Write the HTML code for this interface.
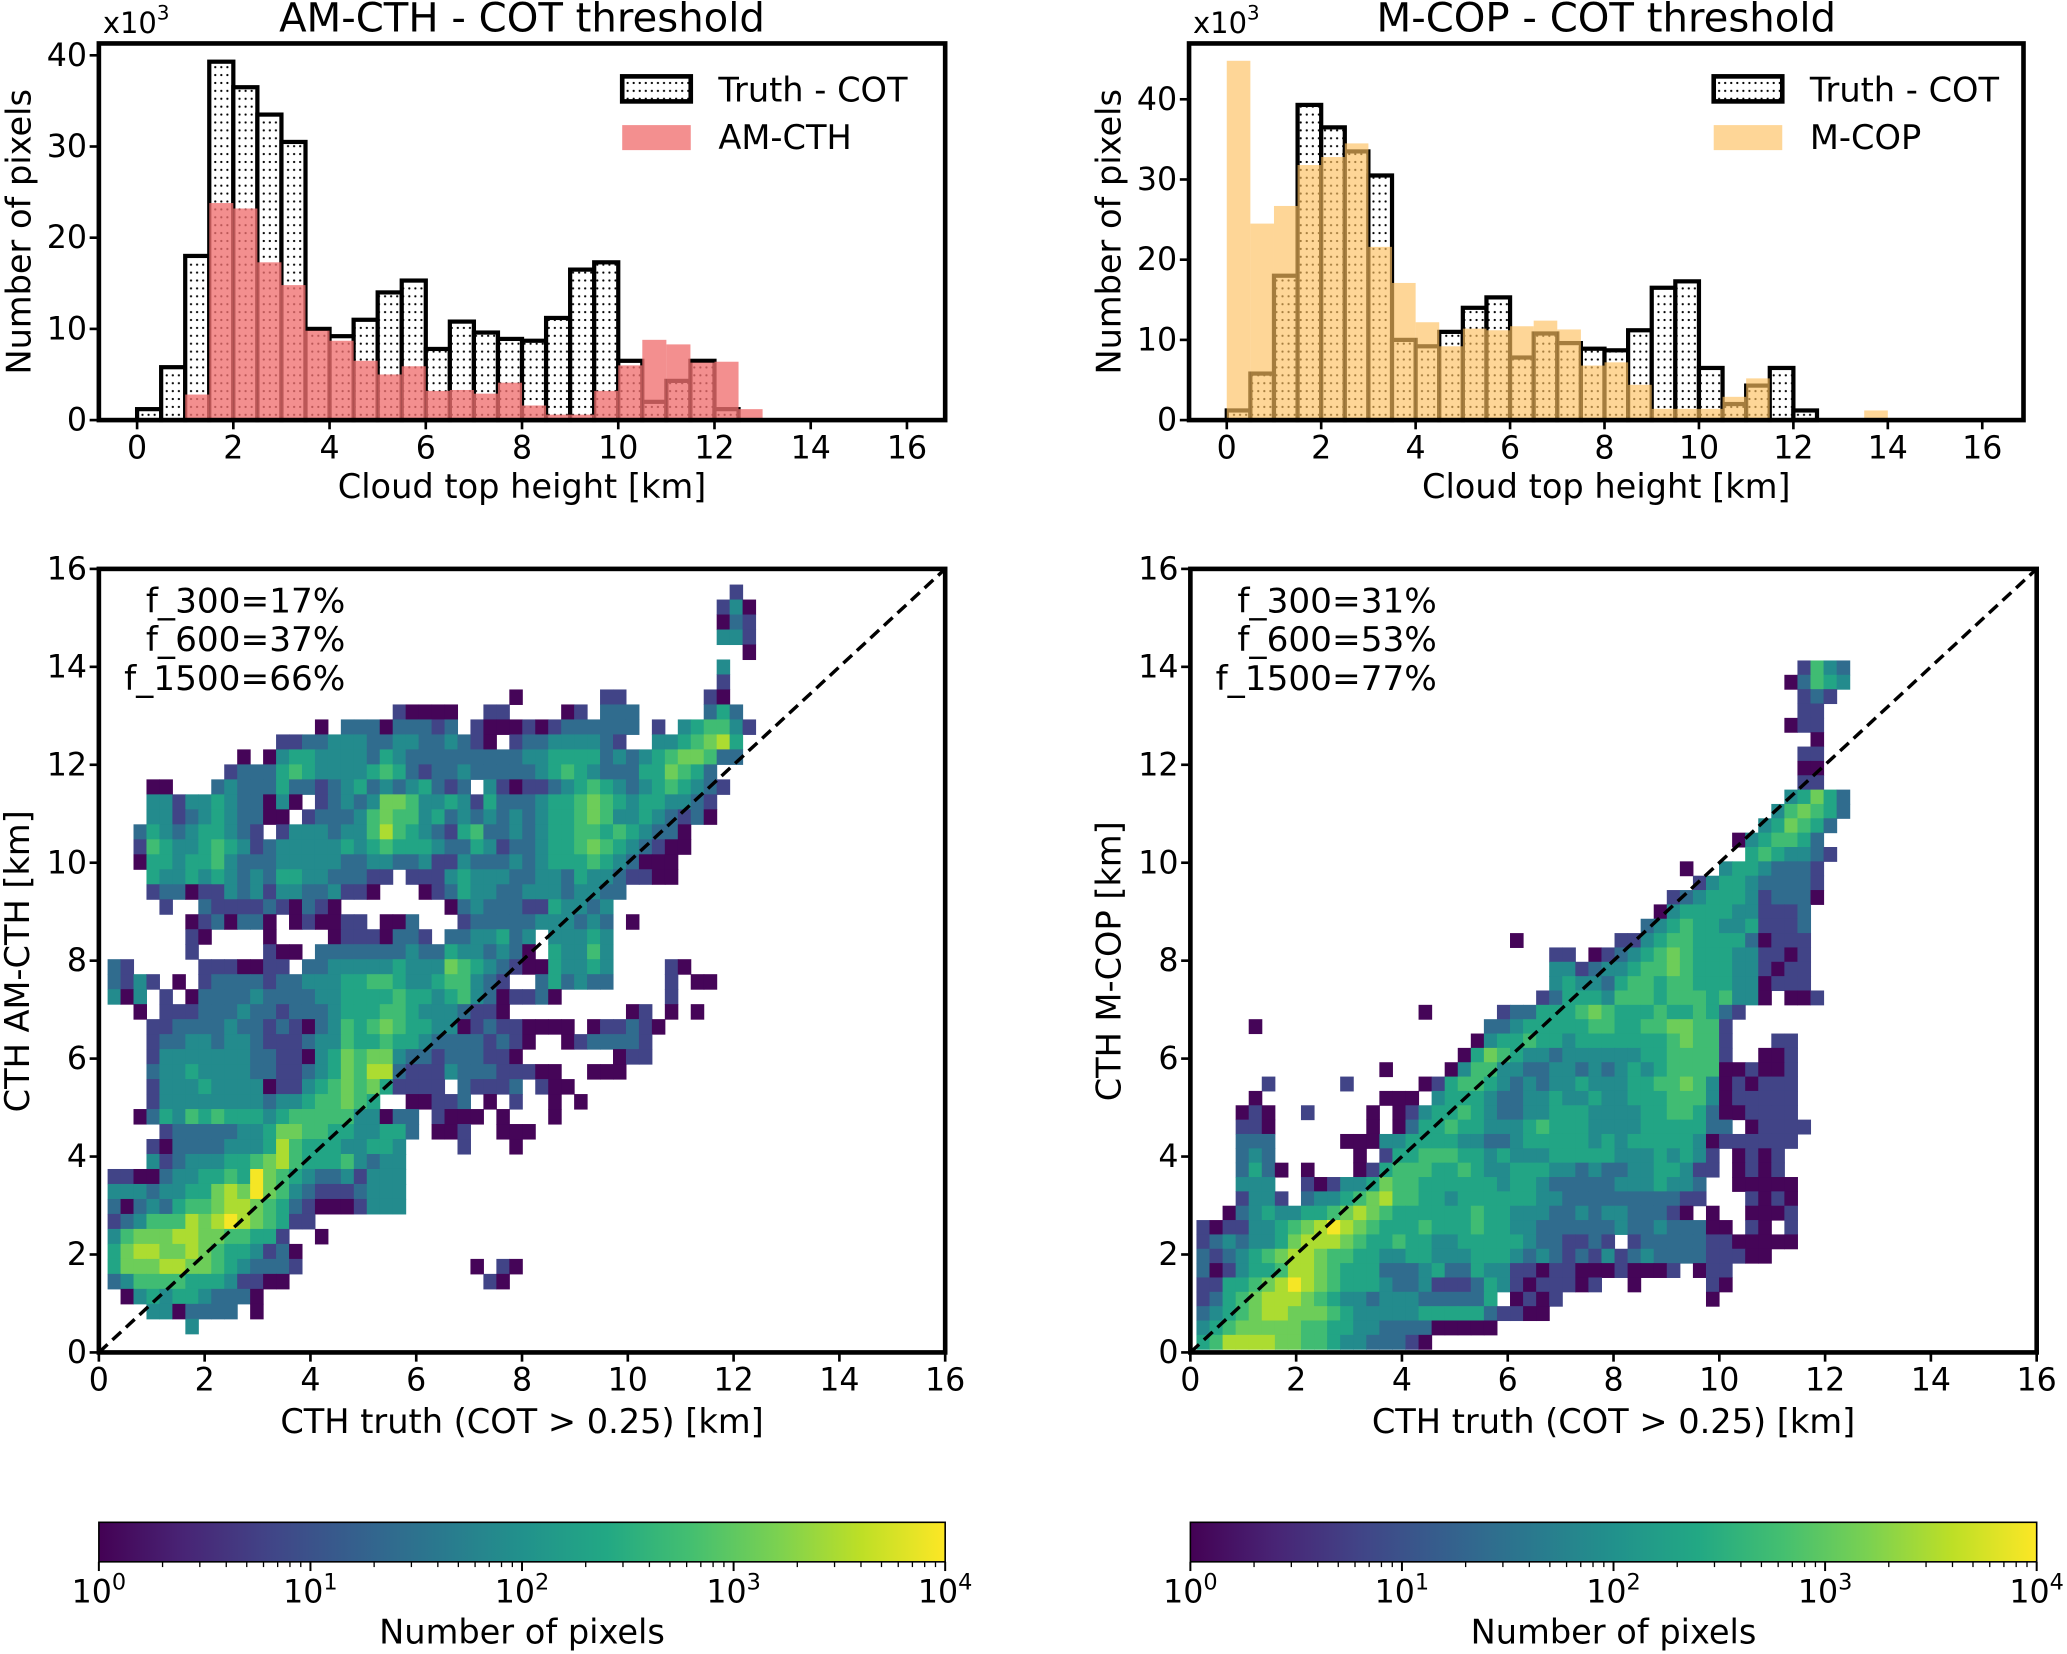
<!DOCTYPE html>
<html><head><meta charset="utf-8">
<style>
html,body{margin:0;padding:0;background:#fff;}
svg{display:block;}
text{font-family:"DejaVu Sans","Liberation Sans",sans-serif;fill:#000;}
</style></head>
<body>
<svg id="fig" width="2067" height="1654" viewBox="0 0 1568 1256" preserveAspectRatio="none">
<defs>
<pattern id="dots" width="4.6" height="6" patternUnits="userSpaceOnUse"><circle cx="2.3" cy="3" r="0.85" fill="#000"/></pattern>
<clipPath id="clipL"><rect x="75" y="432" width="642" height="595"/></clipPath>
<clipPath id="clipR"><rect x="903" y="432" width="642" height="595"/></clipPath>
</defs>
</svg>
<script>
// ---------- DATA ----------
const histBinWidth = 0.5;
const histYTicks = [0, 10, 20, 30, 40];
const kmTicks = [0, 2, 4, 6, 8, 10, 12, 14, 16];
const truthCounts = [1.2,5.8,18,39.3,36.5,33.5,30.5,10,9.2,11,14,15.3,7.8,10.8,9.6,8.9,8.7,11.2,16.5,17.3,6.5,2,4.3,6.5,1.2];
const amcthCounts = [0,0,2.8,23.8,23.2,17.3,14.8,9.8,8.7,6.5,5,5.9,3.2,3.3,2.9,4.1,1.6,0.6,0.6,3.2,6,8.8,8.3,6.3,6.4,1.2];
const mcopCounts = [44.8,24.5,26.7,31.8,32.8,34.5,21.6,17.1,12.2,9.2,11.4,11.2,11.7,12.4,11.3,6.8,7.2,4.4,1.4,1.4,1.4,2.9,5.2,0,0,0,0,1.2];
const cbarDecades = [0, 1, 2, 3, 4];
const amcthStats = ["f_300=17%", "f_600=37%", "f_1500=66%"];
const mcopStats = ["f_300=31%", "f_600=53%", "f_1500=77%"];
// log10(count) per level character
const levelLog = [null, 0.05, 0.8, 1.4, 1.9, 2.35, 2.75, 3.1, 3.5, 3.95];
// 2D histogram bins (km)
const amcthGrid = {x0: 0.165, dx: 0.245, yTop: 15.68, dy: 0.306};
const mcopGrid = {x0: 0.115, dx: 0.247, yTop: 14.13, dy: 0.293};
const Z = "0000000000";
const amcthRows = [
Z+Z+Z+Z+"0000000020",
Z+Z+Z+Z+"0000000241",
Z+Z+Z+Z+"0000000132",
Z+Z+Z+Z+"0000000442",
Z+Z+Z+Z+"0000000001",
Z+Z+Z+Z+"0000000400",
Z+Z+Z+Z+"0000000200",
Z+Z+Z+"0100000022"+"0000002100",
Z+Z+"0021111002"+"2000012033"+"3000003530",
Z+"0000001033"+"3133323021"+"1121233333"+"3020456642",
Z+"0002233444"+"3344334321"+"0233444432"+"0044567850",
Z+"1014554444"+"3543333333"+"3344555534"+"3456776330",
"0000000002"+"3335654444"+"5653233433"+"3334565433"+"3557653000",
"0001100034"+"3335332345"+"3434532304"+"2122345654"+"3456543200",
"0004424454"+"3314102343"+"4776445425"+"3334556765"+"4554432000",
"0004423454"+"3311023334"+"6766453434"+"3434556764"+"4543231000",
"0035434554"+"3202444344"+"6865432563"+"3434556656"+"5433100000",
"0026544565"+"4234444454"+"5655543354"+"2334556765"+"4321100000",
"0015545564"+"3334444433"+"4433422433"+"3434555654"+"3111000000",
"0005445454"+"3435544333"+"2202224544"+"4334435443"+"2211000000",
"0002331224"+"3424433422"+"1000123544"+"3344434433",
"0000200322"+"2232132100"+"0000001343"+"3322544340",
"0000001231"+"3310121122"+"0113000233"+"3334443430"+"1000000000",
"0000002100"+"0010000122"+"2133203344"+"5340444540",
"0000002000"+"0021103333"+"3334335443"+"4310544640",
"3200000222"+"1122033444"+"4454447654"+"3211544540"+"0002100000",
"3242010233"+"3323344455"+"6654456643"+"2003534330"+"0002011000",
"4140201333"+"3433334455"+"5565545643"+"1223100000"+"0002000000",
"0010222333"+"4332333455"+"5665444322"+"1000000000"+"1201010000",
"0002233334"+"3323213465"+"6765544123"+"2211110122"+"3210000000",
"0002334434"+"4322234465"+"5655433332"+"3210012333"+"3200000000",
"0002444444"+"4332214576"+"7743323332"+"2100000001"+"2200000000",
"0003445444"+"4332234576"+"8832224333"+"2221100111",
"0002444544"+"4412245676"+"7522220322"+"2302110000",
"0002444444"+"4434456676"+"5001122301"+"0200101000",
"0013546565"+"5545666664"+"4133021110"+"1000100000",
"0000233333"+"4457766554"+"4553011200"+"1110000000",
"0002133334"+"4458655544"+"5540000200"+"0100000000",
"0004234445"+"5678655564"+"3440000000",
"2211344556"+"5976543342"+"4440000000",
"4443445578"+"7976432223"+"4440000000",
"3134356678"+"8765321112"+"4440000000",
"2346668789"+"8765220000",
"4677788776"+"6552001000",
"5788778765"+"5423100000",
"5777887765"+"4333200000"+"0000000010"+"2100000000",
"3466665554"+"2211000000"+"0000000002"+"1000000000",
"0145455433"+"3100000000",
"0004413333"+"0100000000",
"0000004000"
];
const mcopRows = [
Z+Z+Z+Z+"0000002643",
Z+Z+Z+Z+"0000013654",
Z+Z+Z+Z+"0000002320",
Z+Z+Z+Z+"0000002200",
Z+Z+Z+Z+"0000012200",
Z+Z+Z+Z+"0000000100",
Z+Z+Z+Z+"0000002200",
Z+Z+Z+Z+"0000001100",
Z+Z+Z+Z+"0000002200",
Z+Z+Z+Z+"0000045753",
Z+Z+Z+Z+"0000467653",
Z+Z+Z+Z+"0004576530",
Z+Z+Z+Z+"0145665300",
Z+Z+Z+Z+"0056544320",
Z+Z+Z+"0000000100"+"4554333200",
Z+Z+Z+"0000000024"+"5543333200",
Z+Z+Z+"0000002345"+"5542333100",
Z+Z+Z+"0000014555"+"5442223000",
Z+Z+Z+"0000345655"+"4452223000",
Z+Z+"0000100000"+"0022456655"+"5531222000",
Z+Z+"0000000220"+"1234567655"+"5442212000",
Z+Z+"0000000442"+"3445667655"+"5442122000",
Z+Z+"0000000454"+"4356656655"+"5441222000",
Z+Z+"0000002355"+"5466656665"+"6441011200",
Z+"0000000100"+"0002335556"+"7655565565"+"3200000000",
"0000100000"+Z+"0033455555"+"6655667766"+"2000000000",
Z+Z+"0145565545"+"5555556766"+"2000220000",
Z+Z+"1576544344"+"4444556666"+"2001120000",
Z+"0000100001"+"4664433443"+"4345456666"+"1121120000",
"0000020000"+"0200000125"+"6654343445"+"4445566764"+"1212220000",
"0000100000"+"0000111045"+"5543344544"+"5445556664"+"1222220000",
"0001210020"+"0001012455"+"6543344555"+"4444556653"+"1122220000",
"0002210000"+"0001013556"+"5544456555"+"4444555553"+"3012222000",
"0003330000"+"0111445555"+"4433455555"+"4545555541"+"2222220000",
"0003430000"+"0010255666"+"5545444555"+"5544454542"+"0121200000",
"0003531010"+"0012566655"+"6544555443"+"4334455422"+"0121200000",
"0004440021"+"2445766555"+"5554554333"+"3344454430"+"0111110000",
"0002442034"+"4567866554"+"5555554433"+"3333333220"+"0021210000",
"0013454455"+"6787655555"+"5655444334"+"3443332101"+"0011120000",
"2122445678"+"9876555655"+"5655443333"+"3343343331"+"1021020000",
"2343445788"+"8765565544"+"5555543322"+"3202333332"+"2111110000",
"3234567887"+"6655445544"+"4555434323"+"2423433332"+"2211000000",
"3124556887"+"6555333453"+"3544221221"+"1121112012"+"2000000000",
"2255678987"+"6555433422"+"2354212221"+"2001000002"+"1000000000",
"2356788876"+"5443444333"+"3350121200"+"0000000001",
"3456788777"+"6544444555"+"5532211000",
"4567777766"+"5544333311"+"1110000000",
"5688887766"+"5443332100"
];

// ---------- RENDER ----------
const NS = 'http://www.w3.org/2000/svg';
const svg = document.getElementById('fig');
function mk(tag, attrs, parent) {
  const e = document.createElementNS(NS, tag);
  for (const k in attrs) e.setAttribute(k, attrs[k]);
  (parent || svg).appendChild(e);
  return e;
}
const vStops = ['#440154','#482475','#414487','#355f8d','#2a788e','#21918c','#22a884','#44bf70','#7ad151','#bddf26','#fde725'];
function hex(c){return [parseInt(c.substr(1,2),16),parseInt(c.substr(3,2),16),parseInt(c.substr(5,2),16)];}
function viridis(t){
  t = Math.max(0, Math.min(1, t));
  const p = t * (vStops.length - 1), i = Math.min(Math.floor(p), vStops.length - 2), f = p - i;
  const a = hex(vStops[i]), b = hex(vStops[i + 1]);
  return 'rgb(' + a.map((v, k) => Math.round(v + (b[k] - v) * f)).join(',') + ')';
}
const defs = svg.querySelector('defs');
const grad = mk('linearGradient', {id: 'vgrad', x1: '0', y1: '0', x2: '1', y2: '0'}, defs);
for (let i = 0; i <= 20; i++) {
  mk('stop', {offset: (i / 20).toString(), 'stop-color': viridis(i / 20)}, grad);
}

function txt(s, x, y, size, anchor, parent) {
  const e = mk('text', {x: x, y: y, 'font-size': size, 'text-anchor': anchor || 'start'}, parent);
  e.textContent = s;
  return e;
}

// ---------- HISTOGRAM PANELS ----------
function histPanel(opt) {
  const g = mk('g', {});
  
  
  const xs = km => opt.xk0 + km * opt.xPer;
  const ys = v => opt.y1 - v * opt.yPer;
  truthCounts.forEach((v, i) => {
    const x = xs(i * histBinWidth), w = xs((i + 1) * histBinWidth) - x;
    const r = mk('rect', {x: x, y: ys(v), width: w, height: ys(0) - ys(v), fill: '#fff', stroke: 'none'}, g);
    
    
    const d = mk('rect', {x: x, y: ys(v), width: w, height: ys(0) - ys(v), fill: 'url(#dots)', stroke: '#000', 'stroke-width': 3.2}, g);
    
    
  });
  opt.counts.forEach((v, i) => {
    if (v <= 0) return;
    const x = xs(i * histBinWidth), w = xs((i + 1) * histBinWidth) - x;
    const r = mk('rect', {x: x, y: ys(v), width: w, height: ys(0) - ys(v), fill: opt.color, 'fill-opacity': opt.alpha}, g);
    
    
  });
  const fr = mk('rect', {x: opt.x0, y: opt.y0, width: opt.x1 - opt.x0, height: opt.y1 - opt.y0, fill: 'none', stroke: '#000', 'stroke-width': 3.5}, g);
  
  
  kmTicks.forEach(k => {
    const t = mk('line', {x1: xs(k), x2: xs(k), y1: opt.y1, y2: opt.y1 + 7, stroke: '#000', 'stroke-width': 2}, g);
    
    
    const l = txt(String(k), xs(k), opt.y1 + 29, 24, 'middle', g);
    
    
  });
  histYTicks.forEach(v => {
    const t = mk('line', {x1: opt.x0 - 7, x2: opt.x0, y1: ys(v), y2: ys(v), stroke: '#000', 'stroke-width': 2}, g);
    
    
    const l = txt(String(v), opt.x0 - 9, ys(v) + 8, 24, 'end', g);
    
    
  });
  const xl = txt('Cloud top height [km]', (opt.x0 + opt.x1) / 2, 378, 25.5, 'middle', g);
  
  
  const yl = txt('Number of pixels', 0, 0, 25.5, 'middle', g);
  yl.setAttribute('transform', 'translate(' + (opt.x0 - 52) + ',176) rotate(-90)');
  
  
  const ti = txt(opt.title, (opt.x0 + opt.x1) / 2, 24, 30.5, 'middle', g);
  
  
  const sc = mk('text', {x: opt.x0 + 3, y: 25, 'font-size': 22}, g);
  
  
  sc.textContent = 'x10';
  const sup = mk('tspan', {dy: -10, 'font-size': 15}, sc);
  sup.textContent = '3';
  const lx = opt.legX;
  const p1w = mk('rect', {x: lx, y: 58, width: 52, height: 19, fill: '#fff'}, g);
  
  
  const p1 = mk('rect', {x: lx, y: 58, width: 52, height: 19, fill: 'url(#dots)', stroke: '#000', 'stroke-width': 3.5}, g);
  
  
  const t1 = txt('Truth - COT', lx + 73, 77, 25.5, 'start', g);
  
  
  const p2 = mk('rect', {x: lx, y: 95, width: 52, height: 19, fill: opt.color, 'fill-opacity': opt.alpha}, g);
  
  
  const t2 = txt(opt.label, lx + 73, 113, 25.5, 'start', g);
  
  
}
histPanel({name: 'hist-amcth', x0: 75, x1: 717, y0: 33, y1: 319, xk0: 104, xPer: 36.5, yPer: 6.925,
  counts: amcthCounts, color: '#f07070', alpha: 0.78, barName: 'amcth-bar', title: 'AM-CTH - COT threshold', label: 'AM-CTH', legX: 472});
histPanel({name: 'hist-mcop', x0: 902, x1: 1535, y0: 33, y1: 319, xk0: 930.6, xPer: 35.82, yPer: 6.09,
  counts: mcopCounts, color: '#fdc060', alpha: 0.65, barName: 'mcop-bar', title: 'M-COP - COT threshold', label: 'M-COP', legX: 1300});

// ---------- HEATMAP PANELS ----------
function heatPanel(opt) {
  const g = mk('g', {});
  
  
  const xPer = (opt.x1 - opt.x0) / 16, yPer = (opt.y1 - opt.y0) / 16;
  const xs = km => opt.x0 + km * xPer;
  const ys = km => opt.y1 - km * yPer;
  const cg = mk('g', {'clip-path': 'url(#' + opt.clip + ')'}, g);
  
  
  const gr = opt.grid;
  opt.rows.forEach((row, ri) => {
    const yTopKm = gr.yTop - ri * gr.dy;
    for (let c = 0; c < row.length; c++) {
      const lv = +row[c];
      if (!lv) continue;
      const lg = levelLog[lv];
      const x = xs(gr.x0 + c * gr.dx), y = ys(yTopKm);
      const cell = mk('rect', {x: x, y: y, width: xs(gr.x0 + (c + 1) * gr.dx) - x + 0.4, height: ys(yTopKm - gr.dy) - y + 0.4, fill: viridis(lg / 4)}, cg);
      
      
    }
  });
  const dl = mk('line', {x1: xs(0), y1: ys(0), x2: xs(16), y2: ys(16), stroke: '#000', 'stroke-width': 2.6, 'stroke-dasharray': '9,5'}, g);
  
  
  const fr = mk('rect', {x: opt.x0, y: opt.y0, width: opt.x1 - opt.x0, height: opt.y1 - opt.y0, fill: 'none', stroke: '#000', 'stroke-width': 3.5}, g);
  
  
  kmTicks.forEach(k => {
    const t = mk('line', {x1: xs(k), x2: xs(k), y1: opt.y1, y2: opt.y1 + 7, stroke: '#000', 'stroke-width': 2}, g);
    
    
    const l = txt(String(k), xs(k), opt.y1 + 29, 24, 'middle', g);
    
    
    const t2 = mk('line', {x1: opt.x0 - 7, x2: opt.x0, y1: ys(k), y2: ys(k), stroke: '#000', 'stroke-width': 2}, g);
    
    
    const l2 = txt(String(k), opt.x0 - 9, ys(k) + 8, 24, 'end', g);
    
    
  });
  const xl = txt('CTH truth (COT > 0.25) [km]', (opt.x0 + opt.x1) / 2, 1088, 25.5, 'middle', g);
  
  
  const yl = txt(opt.ylabel, 0, 0, 25.5, 'middle', g);
  yl.setAttribute('transform', 'translate(' + (opt.x0 - 53) + ',730) rotate(-90)');
  
  
  opt.stats.forEach((s, i) => {
    const a = txt(s, opt.x0 + 187, 465 + i * 29.5, 26, 'end', g);
    
    
  });
  const cy0 = 1156, cy1 = 1186;
  const cb = mk('rect', {x: opt.x0, y: cy0, width: opt.x1 - opt.x0, height: cy1 - cy0, fill: 'url(#vgrad)', stroke: '#000', 'stroke-width': 1.2}, g);
  
  
  const cx = lg => opt.x0 + lg / 4 * (opt.x1 - opt.x0);
  cbarDecades.forEach(d => {
    const t = mk('line', {x1: cx(d), x2: cx(d), y1: cy1, y2: cy1 + 7, stroke: '#000', 'stroke-width': 1.5}, g);
    
    
    if (d < 4) {
      for (let m = 2; m < 10; m++) {
        const mt = mk('line', {x1: cx(d + Math.log10(m)), x2: cx(d + Math.log10(m)), y1: cy1, y2: cy1 + 4, stroke: '#000', 'stroke-width': 1}, g);
        
        
      }
    }
    const l = mk('text', {x: cx(d), y: 1217, 'font-size': 24, 'text-anchor': 'middle'}, g);
    
    
    l.textContent = '10';
    const sp = mk('tspan', {dy: -10, 'font-size': 17}, l);
    sp.textContent = String(d);
  });
  const ct = txt('Number of pixels', (opt.x0 + opt.x1) / 2, 1248, 25.5, 'middle', g);
  
  
}
heatPanel({name: 'heatmap-amcth', x0: 75, x1: 717, y0: 432, y1: 1027, clip: 'clipL', grid: amcthGrid, rows: amcthRows, ylabel: 'CTH AM-CTH [km]', stats: amcthStats});
heatPanel({name: 'heatmap-mcop', x0: 903, x1: 1545, y0: 432, y1: 1027, clip: 'clipR', grid: mcopGrid, rows: mcopRows, ylabel: 'CTH M-COP [km]', stats: mcopStats});
</script>
</body></html>
